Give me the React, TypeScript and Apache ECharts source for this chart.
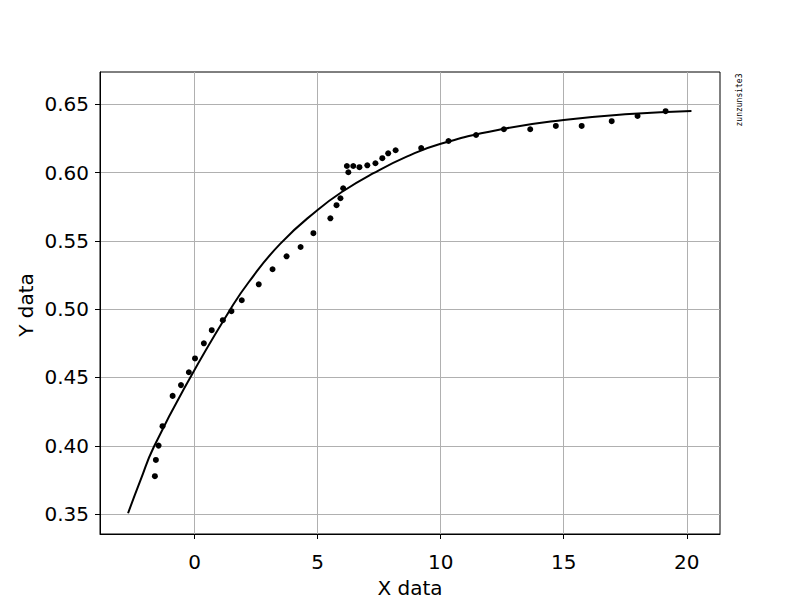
import React, { useEffect, useRef } from "react";
import * as echarts from "echarts";

const pointX = [-1.61, -1.57, -1.46, -1.30, -0.89, -0.55, -0.23, 0.02, 0.38, 0.70, 1.15, 1.50, 1.92, 2.61, 3.17, 3.74, 4.31, 4.83, 5.52, 5.77, 5.93, 6.04, 6.19, 6.25, 6.45, 6.70, 7.02, 7.35, 7.63, 7.87, 8.17, 9.21, 10.32, 11.44, 12.57, 13.64, 14.68, 15.73, 16.95, 18.00, 19.14];
const pointY = [0.3777, 0.3896, 0.4001, 0.4143, 0.4365, 0.4444, 0.4538, 0.4639, 0.4750, 0.4846, 0.4919, 0.4985, 0.5065, 0.5182, 0.5292, 0.5387, 0.5455, 0.5556, 0.5665, 0.5761, 0.5812, 0.5885, 0.6048, 0.6002, 0.6048, 0.6039, 0.6053, 0.6068, 0.6105, 0.6141, 0.6163, 0.6179, 0.6231, 0.6275, 0.6317, 0.6317, 0.6341, 0.6341, 0.6376, 0.6414, 0.6449];

const curveX = [-2.70, -2.19, -1.65, -0.20, 1.46, 2.20, 3.48, 5.00, 6.05, 7.27, 8.62, 9.97, 12.53, 15.00, 17.67, 20.19];
const curveY = [0.3506, 0.3750, 0.3993, 0.4491, 0.4999, 0.5197, 0.5478, 0.5726, 0.5865, 0.5995, 0.6116, 0.6209, 0.6319, 0.6385, 0.6429, 0.6451];

const xTicks = [0, 5, 10, 15, 20];
const yTicks = [0.35, 0.4, 0.45, 0.5, 0.55, 0.6, 0.65];

const FONT = "DejaVu Sans";

export default function App() {
  const ref = useRef<HTMLDivElement>(null);
  useEffect(() => {
    if (!ref.current) return;
    const chart = echarts.init(ref.current, undefined, { renderer: "svg" });
    const axisCommon = {
      type: "value" as const,
      axisLine: { show: true, onZero: false, lineStyle: { color: "#000", width: 1 } },
      axisTick: { show: true, length: 5, lineStyle: { color: "#000", width: 1 } },
      splitLine: { show: true, lineStyle: { color: "#b0b0b0", width: 1 } },
    };
    chart.setOption({
      animation: false,
      backgroundColor: "#fff",
      grid: {
        left: 100,
        right: 80,
        top: 72,
        bottom: 66,
        show: true,
        borderColor: "#000",
        borderWidth: 1,
        backgroundColor: "transparent",
      },
      xAxis: {
        ...axisCommon,
        min: -3.84,
        max: 21.35,
        axisTick: { ...axisCommon.axisTick, customValues: xTicks },
        axisLabel: {
          customValues: xTicks,
          fontSize: 20,
          color: "#000",
          fontFamily: FONT,
          margin: 18,
        },
      },
      yAxis: {
        ...axisCommon,
        min: 0.3354,
        max: 0.6736,
        axisTick: { ...axisCommon.axisTick, customValues: yTicks },
        axisLabel: {
          customValues: yTicks,
          fontSize: 20,
          color: "#000",
          fontFamily: FONT,
          margin: 11,
          formatter: (v: number) => v.toFixed(2),
        },
      },
      graphic: [
        {
          type: "text",
          x: 410,
          y: 588,
          style: {
            text: "X data",
            font: `20px "${FONT}"`,
            fill: "#000",
            align: "center",
            verticalAlign: "middle",
          },
        },
        {
          type: "text",
          x: 26,
          y: 305,
          rotation: Math.PI / 2,
          style: {
            text: "Y data",
            font: `20px "${FONT}"`,
            fill: "#000",
            align: "center",
            verticalAlign: "middle",
          },
        },
        {
          type: "text",
          x: 739,
          y: 100,
          rotation: Math.PI / 2,
          style: {
            text: "zunzunsite3",
            font: `8px "DejaVu Sans Mono"`,
            fill: "#000",
            align: "center",
            verticalAlign: "middle",
          },
        },
      ],
      series: [
        {
          type: "scatter",
          data: pointX.map((x, i) => [x, pointY[i]]),
          symbol: "circle",
          symbolSize: 6,
          itemStyle: { color: "#000", opacity: 1 },
          z: 2,
        },
        {
          type: "line",
          data: curveX.map((x, i) => [x, curveY[i]]),
          showSymbol: false,
          smooth: 0.5,
          lineStyle: { color: "#000", width: 2 },
          z: 3,
        },
      ],
    });
    return () => chart.dispose();
  }, []);
  return <div ref={ref} style={{ width: 800, height: 600, position: "absolute", left: 0, top: 0 }} />;
}
